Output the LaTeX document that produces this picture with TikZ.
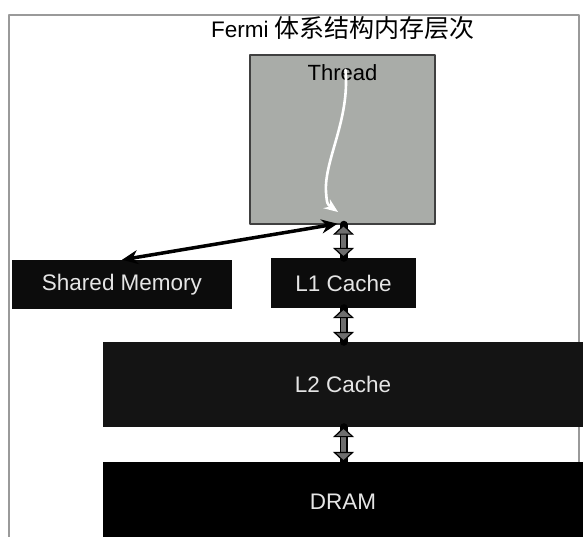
\documentclass[tikz,border=0pt]{standalone}
\usepackage{fontspec}
\setmainfont{Liberation Sans}
\newfontfamily\cjk{Noto Sans CJK SC}
\usetikzlibrary{arrows.meta,positioning,calc}
\definecolor{FrameGray}{HTML}{9A9A9A}
\definecolor{ThreadGray}{HTML}{A9ACA8}
\definecolor{LevelBlack}{HTML}{0C0C0C}
\definecolor{BusGray}{HTML}{6E6E6E}
\tikzset{
  level/.style={fill=LevelBlack,text=white!90!black,inner sep=0pt,font=\fontsize{22.5}{27}\selectfont},
  bus/.style={line width=5pt,BusGray,line cap=butt,
    {Triangle[width=21pt,length=10pt,black,fill=BusGray,line width=1.2pt]}-{Triangle[width=21pt,length=10pt,black,fill=BusGray,line width=1.2pt]},
    preaction={draw=black,line width=8pt,-}},
  link/.style={line width=3.5pt,black,{Stealth[length=16pt,width=14pt]}-{Stealth[length=16pt,width=14pt]}}
}

\begin{document}
\begin{tikzpicture}[x=1pt,y=-1pt,line cap=round,line join=round]
  \useasboundingbox (0,0) rectangle (583,537);
  \draw[FrameGray,line width=1.5pt] (9,545)--(9,15)--(579,15)--(579,545);
  \node (title) at (343,28) {\fontsize{22.5}{27}\selectfont Fermi {\cjk\fontsize{25}{27}\selectfont 体系结构内存层次}};
  % levels of the hierarchy
  \node[draw=black!75,line width=1.5pt,fill=ThreadGray,minimum width=185pt,minimum height=169pt] (thread) at (342.5,139.5) {};
  \node[below=7pt of thread.north,font=\fontsize{22}{26}\selectfont] (threadtxt) {Thread};
  \node[level,minimum width=220pt,minimum height=49pt] (shared) at (122,284.5) {Shared Memory};
  \node[level,minimum width=145pt,minimum height=50pt] (l1) at (343.5,283) {L1 Cache};
  \node[level,fill=black!92,minimum width=480pt,minimum height=85pt] (l2) at (343,384.5) {L2 Cache};
  \node[level,fill=black,minimum width=480pt,minimum height=80pt] (dram) at (343,502) {DRAM};
  % connectors
  \coordinate (flowend) at (338,212);
  \draw[white,line width=2.6pt,-{Stealth[length=14pt,width=11pt]}] ([xshift=3pt,yshift=3pt]threadtxt.center) .. controls (350,120) and (324,160) .. (326,192) .. controls (327,204) .. (flowend);
  \draw[bus] (l1.north |- thread.south) -- (l1.north);
  \draw[bus] (l1.south) -- (l1.south |- l2.north);
  \draw[bus] (l1.south |- l2.south) -- (l1.south |- dram.north);
  \draw[link] ([xshift=-5pt,yshift=1pt]thread.south) -- (shared.north);
\end{tikzpicture}
\end{document}
